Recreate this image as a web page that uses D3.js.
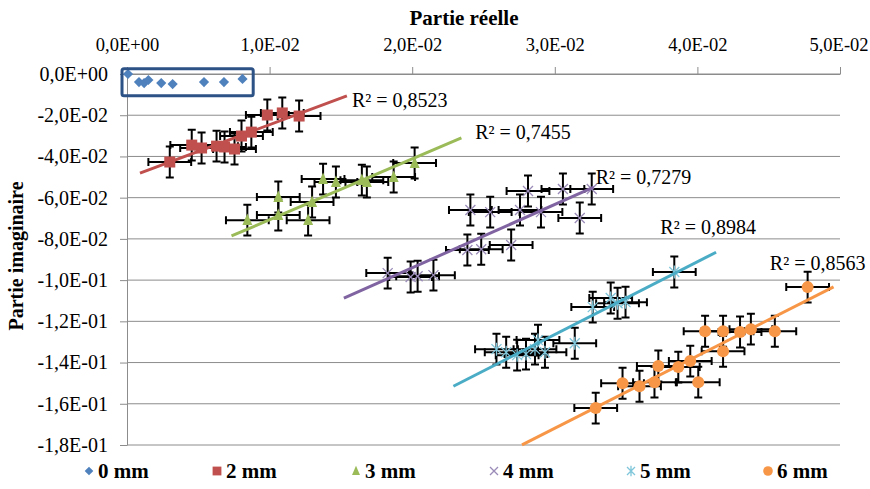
<!DOCTYPE html>
<html><head><meta charset="utf-8">
<script src="https://cdn.jsdelivr.net/npm/d3@7"></script>
<style>body{margin:0;background:#fff}svg{display:block}</style>
</head><body>
<svg id="c" width="870" height="489"></svg>
<script>
// ---------- data ----------
const xTicks = [0, 0.01, 0.02, 0.03, 0.04, 0.05];
const xTickLabels = ["0,0E+00","1,0E-02","2,0E-02","3,0E-02","4,0E-02","5,0E-02"];
const yTicks = [0,-0.02,-0.04,-0.06,-0.08,-0.10,-0.12,-0.14,-0.16,-0.18];
const yTickLabels = ["0,0E+00","-2,0E-02","-4,0E-02","-6,0E-02","-8,0E-02","-1,0E-01","-1,2E-01","-1,4E-01","-1,6E-01","-1,8E-01"];

const seriesNames = ["0 mm","2 mm","3 mm","4 mm","5 mm","6 mm"];

const mm0X = [0.00007,0.00084,0.0012,0.0015,0.0024,0.0032,0.0054,0.0068,0.0081];
const mm0Y = [0,-0.0039,-0.0044,-0.0029,-0.0044,-0.0049,-0.0039,-0.0039,-0.0024];

const mm2X = [0.0030,0.00454,0.00523,0.00628,0.00684,0.00754,0.00803,0.00872,0.00984,0.01089,0.01207];
const mm2Y = [-0.0427,-0.0345,-0.0359,-0.035,-0.0354,-0.0364,-0.0301,-0.0282,-0.0199,-0.0189,-0.0204];

const mm3X = [0.00844,0.01061,0.01061,0.0127,0.01298,0.01375,0.01465,0.01647,0.01682,0.0187,0.02017];
const mm3Y = [-0.0709,-0.0684,-0.0597,-0.0709,-0.0621,-0.051,-0.0524,-0.0515,-0.0524,-0.05,-0.0432];

const mm4X = [0.01828,0.01989,0.02038,0.02149,0.02387,0.02484,0.02694,0.02408,0.02547,0.02756,0.02812,0.02903,0.03057,0.03175,0.03259];
const mm4Y = [-0.0966,-0.0985,-0.0981,-0.0976,-0.0854,-0.085,-0.083,-0.066,-0.067,-0.066,-0.0568,-0.067,-0.0558,-0.0699,-0.0558];

const mm5X = [0.02591,0.02659,0.02736,0.02798,0.02861,0.02882,0.02931,0.0314,0.03266,0.03392,0.0344,0.03496,0.03838];
const mm5Y = [-0.1335,-0.135,-0.1364,-0.1359,-0.1335,-0.1291,-0.135,-0.1306,-0.1131,-0.1087,-0.1112,-0.1107,-0.0961];

const mm6X = [0.03287,0.03475,0.03594,0.03699,0.03726,0.03866,0.0395,0.04006,0.04054,0.0418,0.0418,0.04299,0.04375,0.04543,0.04773];
const mm6Y = [-0.1621,-0.15,-0.1515,-0.1495,-0.1417,-0.1422,-0.1393,-0.1495,-0.1248,-0.1248,-0.1345,-0.1252,-0.1238,-0.1248,-0.1034];

const xErr = [0, 0.0015, 0.0015, 0.0015, 0.0015, 0.0015];
const yErr = [0, 0.0075, 0.0075, 0.0075, 0.0075, 0.0075];

// linear trendlines (series 2..6): y = slope*x + intercept, drawn from trendStart to trendEnd
const trendSlope     = [null, 2.58, 2.95, 3.07, 3.53, 3.51];
const trendIntercept = [null, -0.0504, -0.1002, -0.1554, -0.2323, -0.2772];
const trendStart     = [null, 0.00091, 0.00733, 0.01521, 0.02289, 0.0277];
const trendEnd       = [null, 0.01542, 0.02345, 0.03273, 0.04131, 0.04955];
const r2Labels = [null, "R² = 0,8523", "R² = 0,7455", "R² = 0,7279", "R² = 0,8984", "R² = 0,8563"];
const r2X = [null, 0.01577, 0.02442, 0.03287, 0.0374, 0.04508];
const r2Y = [null, -0.016, -0.0316, -0.0534, -0.0777, -0.0951];

// 0 mm highlight box (data coords)
const boxX = [-0.00035, 0.00885];
const boxY = [0.0025, -0.0105];

// ---------- drawing ----------
const colors = ["#4F81BD","#C0504D","#9BBB59","#8064A2","#4BACC6","#F79646"];
const seriesX = [mm0X, mm2X, mm3X, mm4X, mm5X, mm6X];
const seriesY = [mm0Y, mm2Y, mm3Y, mm4Y, mm5Y, mm6Y];

const svg = d3.select("#c");
const L = 127, R = 840, T = 74, B = 445;
const x = d3.scaleLinear().domain([0, 0.05]).range([L, R]);
const y = d3.scaleLinear().domain([-0.18, 0]).range([B, T]);
const serif = "'Liberation Serif','Times New Roman',serif";
const grid = "#8c8c8c";

// gridlines
svg.append("g").selectAll("line").data(yTicks).join("line")
  .attr("x1", L).attr("x2", R).attr("y1", d => y(d)).attr("y2", d => y(d))
  .attr("stroke", grid).attr("stroke-width", 1);

// left axis
const yAxis = d3.axisLeft(y).tickValues(yTicks).tickFormat((d,i) => yTickLabels[i]).tickSize(7).tickSizeOuter(0);
const ga = svg.append("g").attr("transform", `translate(${L},0)`).call(yAxis);
ga.select(".domain").attr("stroke", grid);
ga.selectAll(".tick line").attr("stroke", grid);
ga.selectAll("text").attr("font-family", serif).attr("font-size", 20).attr("fill", "#000").attr("x", -19);

// top axis (crossing at y=0)
const xAxis = d3.axisTop(x).tickValues(xTicks).tickFormat((d,i) => xTickLabels[i]).tickSize(7).tickSizeOuter(0);
const gx = svg.append("g").attr("transform", `translate(0,${y(0)})`).call(xAxis);
gx.select(".domain").attr("stroke", grid);
gx.selectAll(".tick line").attr("stroke", grid);
gx.selectAll("text").attr("font-family", serif).attr("font-size", 18.5).attr("fill", "#000").attr("y", -23);
gx.selectAll(".tick").filter((d,i) => i === xTicks.length - 1).select("text").attr("dx", -1.5);

// titles
svg.append("text").attr("x", 464).attr("y", 25).attr("text-anchor", "middle")
  .attr("font-family", serif).attr("font-weight", "bold").attr("font-size", 21).text("Partie réelle");
svg.append("text").attr("transform", "translate(23,256) rotate(-90)").attr("text-anchor", "middle")
  .attr("font-family", serif).attr("font-weight", "bold").attr("font-size", 20).text("Partie imaginaire");

// marker drawing
function marker(g, i, cx, cy, scale) {
  const c = colors[i], s = scale || 1;
  if (i === 0) {
    g.append("rect").attr("x", cx - 3.6*s).attr("y", cy - 3.6*s).attr("width", 7.2*s).attr("height", 7.2*s)
      .attr("fill", c).attr("transform", `rotate(45,${cx},${cy})`);
  } else if (i === 1) {
    g.append("rect").attr("x", cx - 5.5*s).attr("y", cy - 5.5*s).attr("width", 11*s).attr("height", 11*s).attr("fill", c);
  } else if (i === 2) {
    const h = 11*s, w = 10*s;
    g.append("path").attr("d", `M${cx},${cy-h*0.6}L${cx+w/2},${cy+h*0.45}L${cx-w/2},${cy+h*0.45}Z`).attr("fill", c);
  } else if (i === 3) {
    const r = 5*s;
    g.append("path").attr("d", `M${cx-r},${cy-r}L${cx+r},${cy+r}M${cx-r},${cy+r}L${cx+r},${cy-r}`)
      .attr("stroke", "#9a8bb8").attr("stroke-width", 1.3).attr("fill", "none");
  } else if (i === 4) {
    const r = 5*s;
    g.append("path").attr("d", `M${cx-r},${cy-r}L${cx+r},${cy+r}M${cx-r},${cy+r}L${cx+r},${cy-r}M${cx},${cy-r*1.3}L${cx},${cy+r*1.3}`)
      .attr("stroke", "#7fc6da").attr("stroke-width", 1.3).attr("fill", "none");
  } else {
    g.append("circle").attr("cx", cx).attr("cy", cy).attr("r", 6*s).attr("fill", c);
  }
}

// error bars
const eg = svg.append("g").attr("stroke", "#000").attr("stroke-width", 2).attr("fill", "none");
seriesX.forEach((xs, i) => {
  if (!xErr[i]) return;
  xs.forEach((xv, j) => {
    const yv = seriesY[i][j];
    const px = x(xv), py = y(yv);
    const x0 = x(xv - xErr[i]), x1 = x(xv + xErr[i]);
    const y0 = y(yv + yErr[i]), y1 = y(yv - yErr[i]);
    const cap = 4;
    eg.append("path").attr("d",
      `M${x0},${py}H${x1}M${x0},${py-cap}V${py+cap}M${x1},${py-cap}V${py+cap}` +
      `M${px},${y0}V${y1}M${px-cap},${y0}H${px+cap}M${px-cap},${y1}H${px+cap}`);
  });
});

// markers
const mg = svg.append("g");
seriesX.forEach((xs, i) => xs.forEach((xv, j) => marker(mg, i, x(xv), y(seriesY[i][j]))));

// trendlines
const tg = svg.append("g");
for (let i = 1; i < 6; i++) {
  const xa = trendStart[i], xb = trendEnd[i];
  tg.append("line")
    .attr("x1", x(xa)).attr("y1", y(trendSlope[i]*xa + trendIntercept[i]))
    .attr("x2", x(xb)).attr("y2", y(trendSlope[i]*xb + trendIntercept[i]))
    .attr("stroke", colors[i]).attr("stroke-width", 3);
  svg.append("text").attr("x", x(r2X[i])).attr("y", y(r2Y[i]))
    .attr("font-family", serif).attr("font-size", 20).attr("fill", "#000").text(r2Labels[i]);
}

// 0 mm box
svg.append("rect").attr("x", x(boxX[0])).attr("y", y(boxY[0]))
  .attr("width", x(boxX[1]) - x(boxX[0])).attr("height", y(boxY[1]) - y(boxY[0]))
  .attr("rx", 2).attr("fill", "none").attr("stroke", "#2c5286").attr("stroke-width", 3);

// legend
const legX = [89, 217, 356, 494, 631, 768];
const lg = svg.append("g");
seriesNames.forEach((n, i) => {
  marker(lg, i, legX[i], 471, i === 0 ? 0.85 : 0.8);
  lg.append("text").attr("x", legX[i] + 9).attr("y", 478)
    .attr("font-family", serif).attr("font-weight", "bold").attr("font-size", 21).text(n);
});
</script>
</body></html>
